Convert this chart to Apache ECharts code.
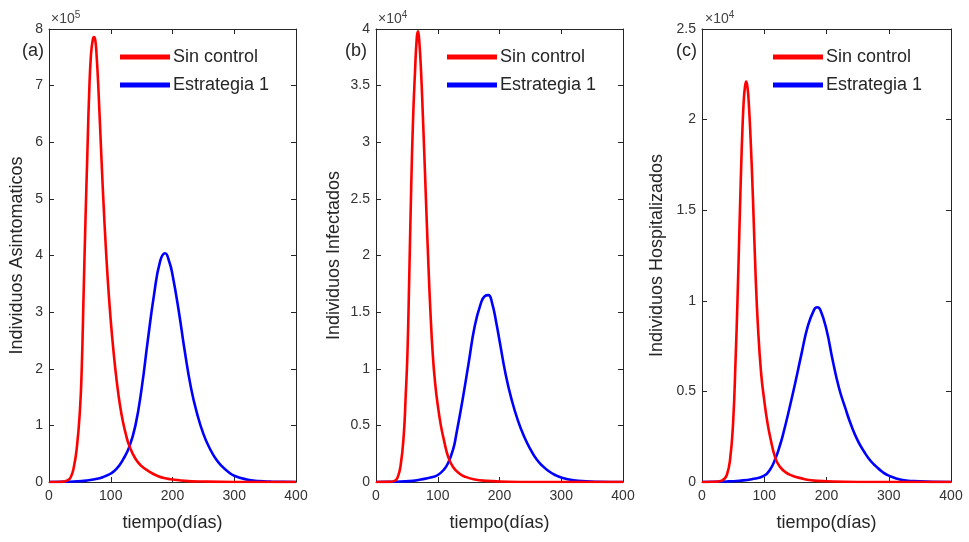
<!DOCTYPE html>
<html><head><meta charset="utf-8">
<script src="https://cdn.jsdelivr.net/npm/echarts@6/dist/echarts.min.js"></script>
<style>html,body{margin:0;padding:0;background:#fff}#c{width:969px;height:542px}</style>
</head><body><div id="c"></div>
<script>
// ---------- text ----------
const panelLabels = ['(a)', '(b)', '(c)'];
const yTitles = ['Individuos Asintomaticos', 'Individuos Infectados', 'Individuos Hospitalizados'];
const xTitle = 'tiempo(días)';
const exponents = ['5', '4', '4'];
const seriesNames = ['Sin control', 'Estrategia 1'];

// ---------- axes ----------
const xMin = 0, xMax = 400, xStep = 100;
const yMaxes = [8, 4, 2.5];
const ySteps = [1, 0.5, 0.5];

// ---------- panel (a): Asintomaticos (x10^5) ----------
const aRedDays = [0,10,20,30,35,40,45,50,53,56,59,62,65,68,71,73,75,77,80,85,90,95,100,105,110,115,120,125,130,140,150,160,175,190,200,220,250,300,400];
const aRedVals = [0,0,0.003,0.03,0.08,0.25,0.6,1.25,2.0,3.3,4.6,5.75,6.85,7.55,7.82,7.86,7.8,7.55,6.95,5.7,4.55,3.6,2.85,2.25,1.75,1.35,1.05,0.82,0.64,0.41,0.28,0.2,0.11,0.06,0.045,0.02,0.008,0.001,0];
const aBlueDays = [0,20,40,60,80,90,100,110,120,130,140,150,160,170,180,188,195,200,210,220,230,240,250,260,270,280,290,300,320,340,360,380,400];
const aBlueVals = [0,0.003,0.01,0.025,0.06,0.1,0.15,0.24,0.4,0.62,1.0,1.65,2.5,3.3,3.9,4.04,3.88,3.66,3.03,2.3,1.66,1.2,0.85,0.6,0.41,0.28,0.18,0.11,0.045,0.018,0.007,0.002,0];

// ---------- panel (b): Infectados (x10^4) ----------
const bRedDays = [0,20,30,35,40,45,48,51,54,57,60,63,66,68,70,73,76,79,82,85,88,92,96,100,105,110,117,125,135,145,160,180,200,250,400];
const bRedVals = [0,0.001,0.01,0.04,0.15,0.42,0.75,1.15,1.85,2.6,3.2,3.6,3.92,3.98,3.9,3.62,3.22,2.78,2.33,1.9,1.52,1.12,0.86,0.68,0.5,0.37,0.22,0.13,0.075,0.045,0.022,0.01,0.005,0,0];
const bBlueDays = [0,20,40,60,80,90,100,110,117,125,130,140,150,160,170,176,182,188,195,200,210,220,230,240,250,260,270,280,290,300,320,340,360,400];
const bBlueVals = [0,0.001,0.004,0.01,0.03,0.042,0.062,0.11,0.17,0.29,0.42,0.72,1.05,1.38,1.58,1.64,1.65,1.58,1.4,1.25,0.95,0.72,0.54,0.4,0.29,0.2,0.14,0.095,0.062,0.04,0.016,0.006,0.002,0];

// ---------- panel (c): Hospitalizados (x10^4) ----------
const cRedDays = [0,20,30,35,40,45,50,54,57,60,63,65,67,69,71,73,75,78,82,86,90,95,100,105,110,118,125,135,145,160,175,200,250,400];
const cRedVals = [0,0.001,0.005,0.015,0.04,0.12,0.33,0.68,1.0,1.38,1.75,1.95,2.1,2.18,2.21,2.18,2.1,1.9,1.55,1.15,0.85,0.6,0.45,0.33,0.24,0.13,0.085,0.052,0.035,0.02,0.01,0.004,0,0];
const cBlueDays = [0,40,60,80,100,110,118,125,130,140,150,160,170,180,185,190,200,210,220,230,240,250,260,270,280,290,300,320,340,400];
const cBlueVals = [0,0.003,0.007,0.015,0.035,0.072,0.13,0.2,0.26,0.4,0.55,0.71,0.86,0.95,0.964,0.95,0.84,0.67,0.52,0.41,0.31,0.23,0.17,0.12,0.085,0.055,0.035,0.012,0.005,0];

const panels = [
  [[aRedDays, aRedVals], [aBlueDays, aBlueVals]],
  [[bRedDays, bRedVals], [bBlueDays, bBlueVals]],
  [[cRedDays, cRedVals], [cBlueDays, cBlueVals]]
];
const colors = ['#ff0000', '#0000ff'];

// ---------- layout ----------
const gridBoxes = [
  {left: 49, right: 673, top: 29, bottom: 60},
  {left: 376, right: 346, top: 29, bottom: 60},
  {left: 702, right: 18, top: 29, bottom: 60}
];
const yNameGaps = [23, 33, 36];
const legendLefts = [120, 447, 773];
const labelPos = [[22, 52], [345, 52], [676, 52]];
const expPos = [[51, 20], [378, 20], [705, 20]];

const FONT = '"Liberation Sans", Arial, Helvetica, sans-serif';
const AX = '#262626';

const grid = gridBoxes.map(g => Object.assign({containLabel: false}, g));
const xAxis = [], yAxis = [], series = [], legend = [], graphic = [];

gridBoxes.forEach((g, i) => {
  const common = {
    type: 'value', gridIndex: i, min: xMin, max: xMax, interval: xStep,
    axisLine: {show: true, onZero: false, lineStyle: {color: AX, width: 1}},
    axisTick: {show: true, inside: true, length: 5, lineStyle: {color: AX}},
    splitLine: {show: false}
  };
  xAxis.push(Object.assign({}, common, {
    position: 'bottom',
    axisLabel: {color: '#333', fontSize: 14, fontFamily: FONT, margin: 7},
    name: xTitle, nameLocation: 'middle', nameGap: 32,
    nameTextStyle: {color: AX, fontSize: 18, fontFamily: FONT}
  }));
  xAxis.push(Object.assign({}, common, {position: 'top', axisLabel: {show: false}}));
  const yc = {
    type: 'value', gridIndex: i, min: 0, max: yMaxes[i], interval: ySteps[i],
    axisLine: {show: true, onZero: false, lineStyle: {color: AX, width: 1}},
    axisTick: {show: true, inside: true, length: 5, lineStyle: {color: AX}},
    splitLine: {show: false}
  };
  yAxis.push(Object.assign({}, yc, {
    position: 'left',
    axisLabel: {color: '#333', fontSize: 14, fontFamily: FONT, margin: 6},
    name: yTitles[i], nameLocation: 'middle', nameGap: yNameGaps[i], nameRotate: 90,
    nameTextStyle: {color: AX, fontSize: 18, fontFamily: FONT}
  }));
  yAxis.push(Object.assign({}, yc, {position: 'right', axisLabel: {show: false}}));

  panels[i].forEach((pair, k) => {
    const [days, vals] = pair;
    series.push({
      type: 'line', name: seriesNames[k],
      xAxisIndex: i * 2, yAxisIndex: i * 2,
      data: days.map((d, j) => [d, vals[j]]),
      showSymbol: false, smooth: 0.5,
      lineStyle: {color: colors[k], width: 2.6}, itemStyle: {color: colors[k]},
      z: k === 0 ? 3 : 2
    });
  });

  legend.push({
    left: legendLefts[i], top: 46, orient: 'vertical', padding: 0,
    itemWidth: 50, itemHeight: 5, itemGap: 6, icon: 'rect',
    selectedMode: false,
    textStyle: {color: AX, fontSize: 18, fontFamily: FONT, lineHeight: 22, padding: [0, 0, 0, -2]},
    data: seriesNames
  });

  graphic.push({
    type: 'text', left: labelPos[i][0], top: labelPos[i][1] - 10,
    style: {text: panelLabels[i], fill: AX, font: '18px ' + FONT}
  });
  graphic.push({
    type: 'text', left: expPos[i][0], top: expPos[i][1] - 10,
    style: {
      text: '×10{s|' + exponents[i] + '}', fill: '#444', font: '14px ' + FONT,
      rich: {s: {fontSize: 10, fontFamily: FONT, fill: '#444', verticalAlign: 'top', padding: [0, 0, 8, 0]}}
    }
  });
});

const chart = echarts.init(document.getElementById('c'), null, {renderer: 'canvas'});
chart.setOption({
  animation: false,
  backgroundColor: '#ffffff',
  grid, xAxis, yAxis, series, legend, graphic
});
</script>
</body></html>
